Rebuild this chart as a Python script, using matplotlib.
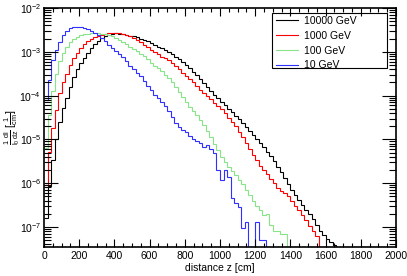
import numpy as np
import matplotlib
matplotlib.use("Agg")
import matplotlib.pyplot as plt
from matplotlib.patches import Rectangle
from matplotlib.ticker import MultipleLocator, LogLocator, NullFormatter

plt.rcParams['font.family'] = ['Liberation Sans Narrow', 'Liberation Sans', 'DejaVu Sans']
plt.rcParams['mathtext.fontset'] = 'custom'
plt.rcParams['mathtext.rm'] = 'Liberation Sans'
plt.rcParams['mathtext.it'] = 'Liberation Sans'

# 20 cm bins from z = 0, values are log10(1/l0 dl/dz), None = empty bin
bin_width = 20
z_max = 2000

log_10000 = [-6.80, -6.06, -5.47, -4.99, -4.60, -4.28, -4.05, -3.80, -3.58, -3.39,
             -3.26, -3.14, -3.03, -2.91, -2.82, -2.75, -2.68, -2.64, -2.61, -2.59,
             -2.58, -2.59, -2.60, -2.62, -2.63, -2.65, -2.67, -2.70, -2.73, -2.76,
             -2.80, -2.84, -2.88, -2.92, -2.96, -3.00, -3.05, -3.11, -3.17, -3.23,
             -3.30, -3.37, -3.45, -3.54, -3.63, -3.72, -3.81, -3.90, -3.98, -4.06,
             -4.14, -4.22, -4.30, -4.38, -4.46, -4.54, -4.62, -4.71, -4.80, -4.89,
             -4.98, -5.08, -5.18, -5.28, -5.38, -5.50, -5.62, -5.75, -5.88, -6.02,
             -6.15, -6.27, -6.39, -6.50, -6.60, -6.70, -6.82, -6.95, -7.08, -7.18,
             -7.28, -7.35, -7.42, -7.45]

log_1000 = [-6.04, -5.29, -4.74, -4.33, -3.95, -3.70, -3.50, -3.30, -3.15, -3.02,
            -2.91, -2.82, -2.75, -2.70, -2.66, -2.63, -2.61, -2.59, -2.58, -2.58,
            -2.58, -2.58, -2.60, -2.62, -2.65, -2.69, -2.73, -2.78, -2.84, -2.90,
            -2.96, -3.01, -3.06, -3.11, -3.15, -3.19, -3.25, -3.32, -3.40, -3.48,
            -3.55, -3.62, -3.70, -3.78, -3.87, -3.95, -4.02, -4.08, -4.16, -4.23,
            -4.31, -4.40, -4.50, -4.60, -4.70, -4.82, -4.95, -5.08, -5.22, -5.35,
            -5.47, -5.60, -5.70, -5.80, -5.90, -6.00, -6.10, -6.18, -6.22, -6.30,
            -6.40, -6.52, -6.62, -6.72, -6.85, -6.98, -7.10, -7.20]

log_100 = [-5.20, -4.45, -3.90, -3.50, -3.22, -3.02, -2.88, -2.78, -2.71, -2.66,
           -2.62, -2.60, -2.59, -2.58, -2.58, -2.58, -2.59, -2.60, -2.62, -2.65,
           -2.69, -2.73, -2.78, -2.83, -2.88, -2.93, -2.98, -3.04, -3.10, -3.17,
           -3.25, -3.32, -3.38, -3.44, -3.52, -3.60, -3.70, -3.80, -3.92, -4.04,
           -4.15, -4.26, -4.35, -4.45, -4.55, -4.68, -4.80, -4.95, -5.10, -5.25,
           -5.40, -5.52, -5.62, -5.72, -5.82, -5.92, -6.02, -6.15, -6.28, -6.40,
           -6.52, -6.62, -6.72, -6.70, -6.95, -7.10, -7.08, -7.15, -7.15]

log_10 = [-4.10, -3.65, -3.19, -2.96, -2.77, -2.62, -2.52, -2.46, -2.44, -2.43,
          -2.43, -2.45, -2.48, -2.52, -2.56, -2.62, -2.69, -2.76, -2.84, -2.92,
          -2.98, -3.04, -3.12, -3.22, -3.32, -3.40, -3.48, -3.56, -3.66, -3.78,
          -3.88, -3.98, -4.06, -4.14, -4.24, -4.34, -4.48, -4.62, -4.72, -4.78,
          -4.84, -4.92, -4.98, -5.04, -5.08, -5.18, -5.13, -5.22, -5.32, -5.70,
          -5.92, -5.70, -5.86, -6.34, -6.45, -6.55, -7.02, -6.89, None, None,
          -6.89, -7.30, -7.30, None, None, None, None, None, None, None,
          None, None, None, None, None]

labels = ['10000 GeV', '1000 GeV', '100 GeV', '10 GeV']
colors = ['black', '#ff0000', '#88e488', '#3030ff']
series = [log_10000, log_1000, log_100, log_10]
series_end = [z_max, z_max, z_max, 1500]

y_min, y_max = 3.5e-8, 1e-2

fig = plt.figure(figsize=(4.07, 2.76), dpi=100)
ax = fig.add_axes([44 / 407, 29 / 276, 352 / 407, 239 / 276])

handles = []
for logs, col, lab, end in zip(series, colors, labels, series_end):
    n_bins = end // bin_width
    vals = np.full(n_bins, y_min)
    for i, v in enumerate(logs):
        if v is not None:
            vals[i] = 10.0 ** v
    edges = np.arange(n_bins + 1) * bin_width
    ax.stairs(vals, edges, color=col, linewidth=0.8, baseline=None, label=lab)
    handles.append(plt.Line2D([], [], color=col, linewidth=0.8))

ax.set_yscale('log')
ax.set_xlim(0, z_max)
ax.set_ylim(y_min, y_max)

ax.xaxis.set_major_locator(MultipleLocator(200))
ax.xaxis.set_minor_locator(MultipleLocator(50))
ax.yaxis.set_major_locator(LogLocator(base=10, numticks=20))
ax.yaxis.set_minor_locator(LogLocator(base=10, subs=np.arange(2, 10), numticks=20))
ax.yaxis.set_minor_formatter(NullFormatter())

ax.tick_params(which='both', direction='in', top=True, right=True, width=0.8,
               labelsize=7.5, pad=3)
ax.tick_params(axis='y', which='both', pad=2)
ax.tick_params(axis='x', which='major', length=6)
ax.tick_params(axis='x', which='minor', length=3)
ax.tick_params(axis='y', which='major', length=10)
ax.tick_params(axis='y', which='minor', length=5)
for s in ax.spines.values():
    s.set_linewidth(1.2)

ax.set_xlabel('distance z [cm]', fontsize=7.5, labelpad=1)
ax.set_ylabel(r'$\frac{1}{\mathrm{l}_0}\frac{\mathrm{dl}}{\mathrm{dz}}\ [\frac{1}{\mathrm{cm}}]$',
              fontsize=7.5)
ax.yaxis.set_label_coords(-0.063, 0.5)

# legend box
ax.add_patch(Rectangle((228 / 352, (247 - 68) / 239), 115 / 352, 55 / 239,
                       transform=ax.transAxes, fill=False, edgecolor='black',
                       linewidth=0.8, zorder=5))
ax.legend(handles, labels, loc='upper left', bbox_to_anchor=(229 / 352, (247 - 13) / 239),
          frameon=False, fontsize=7.5, handlelength=2.1, handletextpad=0.6,
          labelspacing=0.45, borderpad=0.3, borderaxespad=0)

fig.savefig('out.png', dpi=100)
